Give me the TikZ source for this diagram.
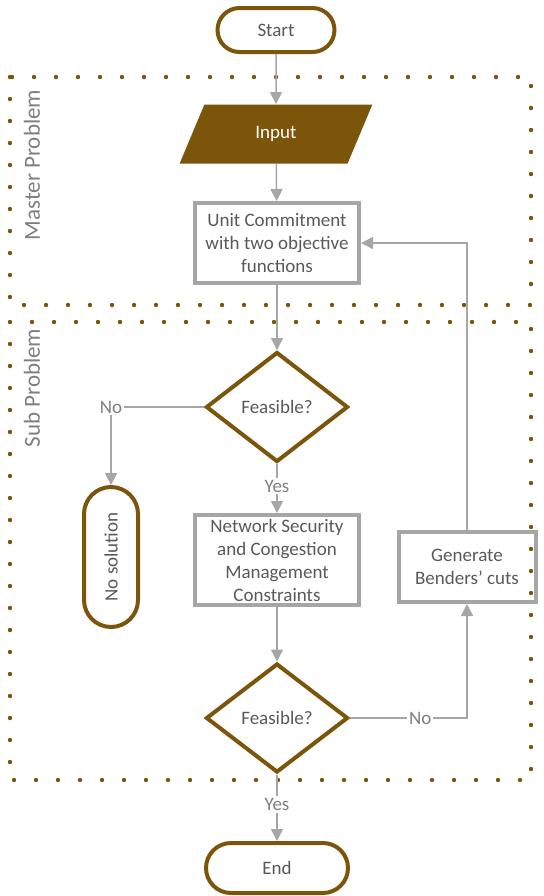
\documentclass[tikz,border=0pt]{standalone}
\usepackage{fontspec}
\setmainfont{Carlito}
\usetikzlibrary{arrows.meta,shapes.geometric,shapes.misc}
\definecolor{brownline}{RGB}{123,85,10}
\definecolor{greyline}{RGB}{166,166,166}
\definecolor{greytext}{RGB}{89,89,89}
\definecolor{greylabel}{RGB}{127,127,127}
\tikzset{
	terminal/.style={draw=brownline, line width=2pt, rounded rectangle, inner sep=0pt, text=greytext},
	vterminal/.style={draw=brownline, line width=2pt, rectangle, rounded corners=13.5pt, inner sep=0pt, text=greytext},
	procbox/.style={draw=greyline, line width=2pt, rectangle, inner sep=0pt, align=center, text=greytext},
	decision/.style={draw=brownline, line width=2pt, diamond, inner sep=0pt, text=greytext},
	iobox/.style={fill=brownline, trapezium, trapezium left angle=65, trapezium right angle=115, trapezium stretches=true, inner sep=0pt, text=white},
	link/.style={draw=greyline, line width=0.75pt},
	flow/.style={link, -{Triangle[width=6pt,length=6pt]}},
	answer/.style={fill=white, inner sep=1pt, text=greylabel},
	region/.style={draw=brownline, line width=2.2pt, line cap=round, dash pattern=on 0pt off 11pt},
	regionlabel/.style={rotate=90, text=greylabel, font=\fontsize{11.5}{13}\selectfont}
}
\begin{document}
\begin{tikzpicture}[x=0.5pt, y=-0.5pt, font=\fontsize{9.5}{11.5}\selectfont]
			%%%%% START %%%%%
			\useasboundingbox (0, 0) rectangle (544, 896);
			
			% dotted regions
			\draw[region] (10, 77) rectangle (531, 305);
			\draw[region] (10, 322) rectangle (531, 780);
			\node[regionlabel] (mlabel) at (32, 165) {Master Problem};
			\node[regionlabel] (slabel) at (32, 388) {Sub Problem};
			
			% nodes
			\node[terminal, minimum width=58.5pt, minimum height=22pt] (start) at (276, 30) {Start};
			\node[iobox, minimum width=96.5pt, minimum height=29.5pt] (input) at (276, 134) {Input};
			\node[procbox, minimum width=82pt, minimum height=40pt] (uc) at (277, 243) {Unit Commitment\\with two objective\\functions};
			\node[decision, minimum width=71pt, minimum height=55pt] (feas1) at (277, 407) {Feasible?};
			\node[vterminal, minimum width=27pt, minimum height=70pt] (nosol) at (111, 557) {\rotatebox{90}{No solution}};
			\node[procbox, minimum width=82pt, minimum height=45pt] (nscm) at (277, 560) {Network Security\\and Congestion\\Management\\Constraints};
			\node[procbox, minimum width=68.5pt, minimum height=35pt] (benders) at (467, 567) {Generate\\Benders' cuts};
			\node[decision, minimum width=71pt, minimum height=54.5pt] (feas2) at (277, 718) {Feasible?};
			\node[terminal, minimum width=71pt, minimum height=25pt] (end) at (277, 868) {End};
			
			% connectors
			\draw[flow] (start) -- (input);
			\draw[flow] (input) -- (uc);
			\draw[flow] (uc) -- (feas1);
			\draw[flow] (feas1.west) -| (nosol.north) node[answer, pos=0.5] {No};
			\draw[flow] (feas1.south) -- (nscm.north) node[answer, pos=0.45] {Yes};
			\draw[flow] (nscm) -- (feas2);
			\draw[flow] (feas2.east) -| (benders.south) node[answer, pos=0.3] {No};
			\draw[flow] (benders.north) |- (uc.east);
			\draw[flow] (feas2.south) -- (end.north) node[answer, pos=0.45] {Yes};
			
			%%%%% END %%%%%
		\end{tikzpicture}
\end{document}
